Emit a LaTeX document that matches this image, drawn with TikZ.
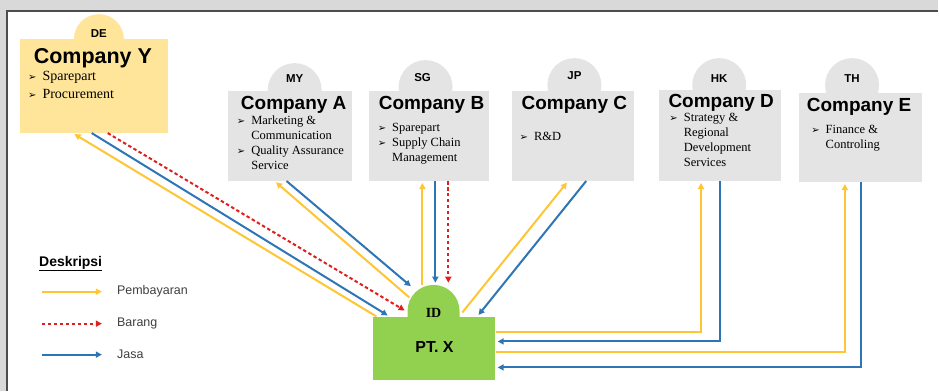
\documentclass[tikz,border=0pt]{standalone}
\usepackage{fontspec}
\setmainfont{Liberation Serif}
\setsansfont{Liberation Sans}
\newfontfamily\dingfont{DejaVu Sans}
\usepackage{tikz}
\usetikzlibrary{positioning,arrows.meta,calc}
\usepackage{xcolor}
\definecolor{payyellow}{HTML}{FFC533}
\definecolor{svcblue}{HTML}{2E75B6}
\definecolor{goodsred}{HTML}{E02020}
\definecolor{boxgrey}{HTML}{E4E4E4}
\definecolor{boxyellow}{HTML}{FFE599}
\definecolor{ptgreen}{HTML}{92D050}
\definecolor{pagegrey}{HTML}{D9D9D9}
\definecolor{framegrey}{HTML}{4D4D4D}
\definecolor{legendtext}{HTML}{404040}
\newcommand{\bul}{{\dingfont\fontsize{10}{10}\selectfont ➢}}
\tikzset{
  >=Stealth,
  flow/.style={line width=2pt, shorten >=2pt, -{Triangle[length=6pt,width=6pt]}},
}

\begin{document}
\begin{tikzpicture}[
  x=1pt, y=-1pt,
  compbox/.style 2 args={fill=boxgrey, inner sep=0pt, minimum width=#1, minimum height=#2},
  tabcap/.style={fill=boxgrey, inner sep=0pt, minimum width=54pt, minimum height=54pt, rounded corners=27pt, anchor=north},
  iso/.style={font=\sffamily\bfseries\fontsize{11.5}{13}\selectfont, inner sep=0pt, anchor=base},
  cname/.style={font=\sffamily\bfseries\fontsize{19}{22}\selectfont, inner sep=0pt, anchor=base},
  duties/.style={font=\fontsize{12.5}{15}\selectfont, inner sep=0pt, anchor=north west},
  legend/.style={font=\sffamily\fontsize{12.5}{14}\selectfont, text=legendtext, inner sep=0pt, anchor=west},
  pay/.style={flow, draw=payyellow},
  goods/.style={flow, draw=goodsred, dash pattern=on 3.5pt off 2.5pt},
  svc/.style={flow, draw=svcblue},
]
\fill[pagegrey] (0,0) rectangle (939,391);
\fill[white] (7,11) rectangle (939,391);
\draw[framegrey, line width=2pt] (7,391) -- (7,11) -- (939,11);

\node[tabcap, fill=boxyellow, minimum width=50pt, minimum height=50pt, rounded corners=25pt] (tabY) at (99,14) {};
\node[compbox={148pt}{94pt}, fill=boxyellow] (compY) at (94,86) {};
\node[tabcap] (tabA) at (295,63) {};
\node[compbox={124pt}{90pt}] (compA) at (290,136) {};
\node[tabcap] (tabB) at (426,60) {};
\node[compbox={121pt}{90pt}] (compB) at (429.5,136) {};
\node[tabcap] (tabC) at (575,58) {};
\node[compbox={122pt}{90pt}] (compC) at (574,136) {};
\node[tabcap] (tabD) at (720,58) {};
\node[compbox={122pt}{91pt}] (compD) at (721,135.5) {};
\node[tabcap] (tabE) at (853,58) {};
\node[compbox={123pt}{89pt}] (compE) at (861.5,137.5) {};
\node[tabcap, fill=ptgreen, minimum width=52pt, minimum height=64pt, rounded corners=26pt] (tabPT) at (434,285) {};
\node[compbox={123pt}{63pt}, fill=ptgreen] (ptx) at (434.5,348.5) {};

\node[iso] (isoY) at (99,38) {DE};
\node[iso] (isoA) at (295,83) {MY};
\node[iso] (isoB) at (423,82) {SG};
\node[iso] (isoC) at (575,80) {JP};
\node[iso] (isoD) at (720,83) {HK};
\node[iso] (isoE) at (853,83) {TH};
\node[iso, font=\bfseries\fontsize{14}{16}\selectfont] (isoPT) at (434,318) {ID};

\node[cname, font=\sffamily\bfseries\fontsize{21.5}{24}\selectfont] (nameY) at (93,64) {Company Y};
\node[cname] (nameA) at (294,110) {Company A};
\node[cname] (nameB) at (432,110) {Company B};
\node[cname] (nameC) at (575,110) {Company C};
\node[cname] (nameD) at (722,108) {Company D};
\node[cname] (nameE) at (860,112) {Company E};
\node[cname, font=\sffamily\bfseries\fontsize{16}{18}\selectfont] (nameX) at (435,353) {PT. X};

\node[duties, font=\fontsize{14}{18}\selectfont] (dutyY) at (28,68)
  {\begin{tabular}{@{}l@{\hspace{6pt}}l@{}}\bul & Sparepart\\ \bul & Procurement\end{tabular}};
\node[duties] (dutyA) at (237,114)
  {\begin{tabular}{@{}l@{\hspace{6pt}}l@{}}\bul & Marketing \&\\ & Communication\\ \bul & Quality Assurance\\ & Service\end{tabular}};
\node[duties] (dutyB) at (378,121)
  {\begin{tabular}{@{}l@{\hspace{6pt}}l@{}}\bul & Sparepart\\ \bul & Supply Chain\\ & Management\end{tabular}};
\node[duties] (dutyC) at (520,130)
  {\begin{tabular}{@{}l@{\hspace{6pt}}l@{}}\bul & R\&D\end{tabular}};
\node[duties] (dutyD) at (670,111)
  {\begin{tabular}{@{}l@{\hspace{6pt}}l@{}}\bul & Strategy \&\\ & Regional\\ & Development\\ & Services\end{tabular}};
\node[duties] (dutyE) at (812,123)
  {\begin{tabular}{@{}l@{\hspace{6pt}}l@{}}\bul & Finance \&\\ & Controling\end{tabular}};

\draw[pay] ([xshift=4pt]ptx.north west) -- ([xshift=53pt]compY.south west);
\draw[svc] ([xshift=72pt]compY.south west) -- ([xshift=17pt]ptx.north west);
\draw[goods] ([xshift=88pt]compY.south west) -- ([xshift=34pt,yshift=5pt]ptx.north west);
\draw[pay] ([xshift=37pt,yshift=19pt]ptx.north west) -- ([xshift=47pt]compA.south west);
\draw[svc] ([xshift=59pt]compA.south west) -- ([xshift=40pt,yshift=29pt]ptx.north west);
\draw[pay] ([xshift=54pt]compB.south west |- tabPT.north) -- ([xshift=54pt]compB.south west);
\draw[svc] ([xshift=67pt]compB.south west) -- ([xshift=67pt]compB.south west |- tabPT.north);
\draw[goods] ([xshift=80pt]compB.south west) -- ([xshift=80pt]compB.south west |- tabPT.north);
\draw[pay] ([xshift=90pt,yshift=4pt]ptx.north west) -- ([xshift=56pt]compC.south west);
\draw[svc] ([xshift=74pt]compC.south west) -- ([xshift=105pt]ptx.north west);
\draw[pay] ([yshift=-16pt]ptx.north east) -| ([xshift=42pt]compD.south west);
\draw[svc] ([xshift=61pt]compD.south west) |- ([yshift=-25pt]ptx.north east);
\draw[pay] ([yshift=-36pt]ptx.north east) -| ([xshift=46pt]compE.south west);
\draw[svc] ([xshift=62pt]compE.south west) |- ([yshift=-51pt]ptx.north east);

\node[legend, font=\sffamily\bfseries\fontsize{14}{16}\selectfont, text=black] (legTitle) at (39,264) {\underline{Deskripsi}};
\node[legend] (legPay) at (117,292) {Pembayaran};
\node[legend] (legGoods) at (117,324) {Barang};
\node[legend] (legSvc) at (117,355) {Jasa};
\coordinate (kPay) at (42,292);
\coordinate (kGoods) at (42,324);
\coordinate (kSvc) at (42,355);
\draw[pay] (kPay) -- ([xshift=-13pt]legPay.west);
\draw[goods] (kGoods) -- ([xshift=-13pt]legGoods.west);
\draw[svc] (kSvc) -- ([xshift=-13pt]legSvc.west);
\end{tikzpicture}
\end{document}
